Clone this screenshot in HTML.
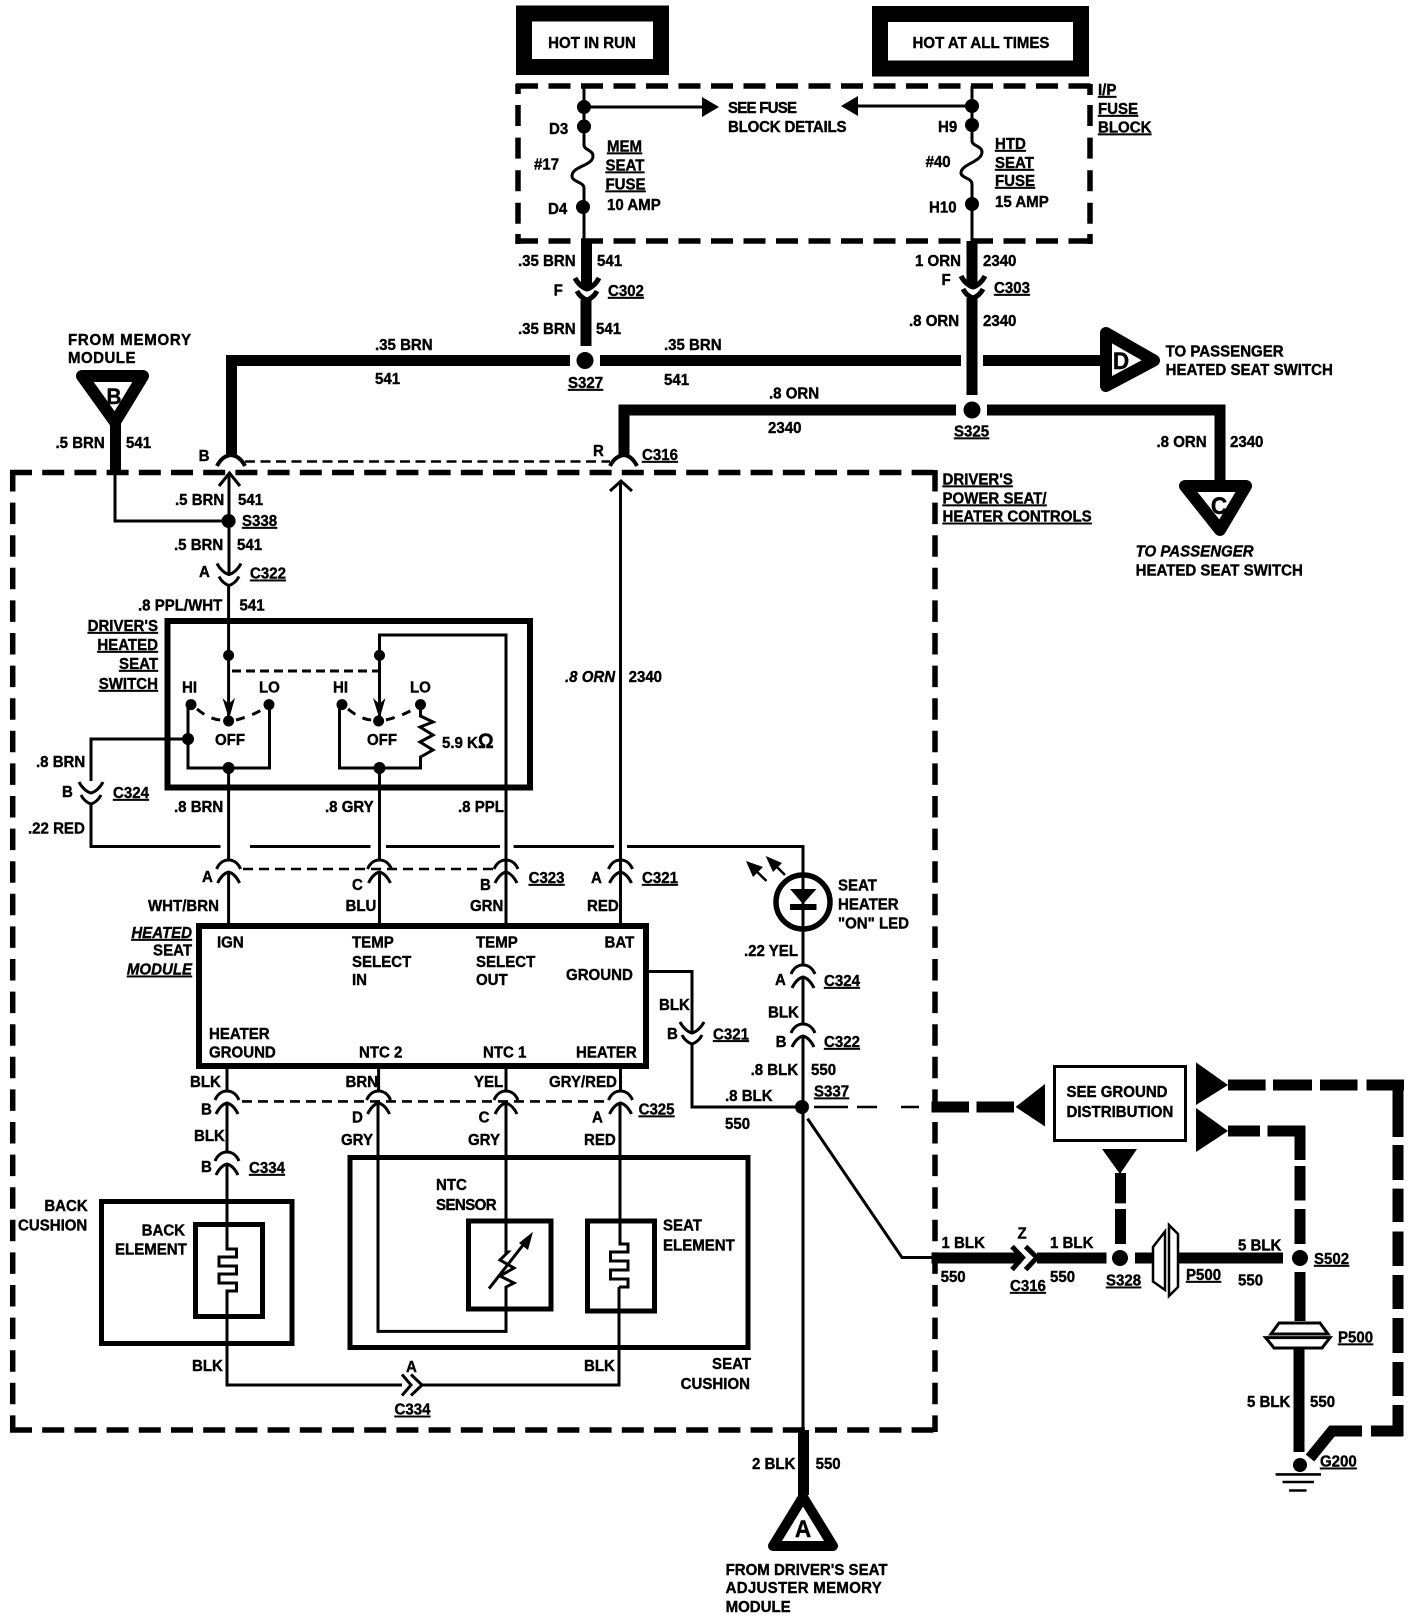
<!DOCTYPE html>
<html><head><meta charset="utf-8"><style>
html,body{margin:0;padding:0;background:#fff}
svg{display:block}
text{font-family:"Liberation Sans",sans-serif;font-weight:bold;font-size:16px;fill:#000;stroke:#000;stroke-width:.4;transform-box:fill-box;transform-origin:left center;transform:scaleX(.94)}
.u{text-decoration:underline}
.i{font-style:italic}
.e{text-anchor:end;transform-origin:right center}
.m{text-anchor:middle;transform-origin:center center}
.w{fill:none;stroke:#000;stroke-width:3}
.t{fill:none;stroke:#000;stroke-width:11}
.d{fill:none;stroke:#000;stroke-width:5.5}
.s{fill:none;stroke:#000;stroke-width:5}
.f{fill:#000;stroke:none}
</style></head><body>
<svg xmlns="http://www.w3.org/2000/svg" width="1424" height="1620" viewBox="0 0 1424 1620">
<defs>
<g id="up" fill="none" stroke="#000"><path d="M-12,-3C-9,-10-4,-12 0,-12C4,-12 9,-10 12,-3"/><path d="M-11,11C-8,5-4,1 0,0C4,1 8,5 11,11"/></g>
<g id="dn" fill="none" stroke="#000"><path d="M-12,-11C-9,-5-4,-1 0,0C4,-1 9,-5 12,-11"/><path d="M-10,2C-7,8-3,10 0,11C3,10 7,8 10,2"/></g>
</defs>
<rect width="1424" height="1620" fill="#fff"/>

<!-- power boxes -->
<rect x="524" y="13.5" width="137" height="53.5" fill="#fff" stroke="#000" stroke-width="16"/>
<rect x="880" y="14" width="201" height="54.5" fill="#fff" stroke="#000" stroke-width="16"/>
<text x="592" y="48" class="m">HOT IN RUN</text>
<text x="981" y="48" class="m">HOT AT ALL TIMES</text>

<!-- fuse block dashed box -->
<g class="d">
<path class="d" stroke-dasharray="22 10.5" d="M516,86H1092"/>
<path class="d" stroke-dasharray="22 10.5" d="M516,241H1092"/>
<path class="d" stroke-dasharray="21 11.6" d="M518,105V225"/>
<path class="d" stroke-dasharray="21 11.6" d="M1090,105V225"/>
<path class="d" d="M518,84V94M518,234V244M1090,84V95M1090,234V244"/>
</g>

<!-- left fuse -->
<path class="w" d="M584,86V145C584,150 593,150 593,156C593,166 572,166 572,176C572,182 584,182 584,188V241"/>
<circle class="f" cx="584" cy="107" r="7"/><circle class="f" cx="584" cy="126.5" r="7"/><circle class="f" cx="583" cy="207" r="7"/>
<path class="w" d="M584,107H704"/><path class="f" d="M702,97L719,107L702,117Z"/>
<!-- right fuse -->
<path class="w" d="M972,86V141C972,146 982,146 982,152C982,162 961,164 961,173C961,178 972,178 972,184V241"/>
<circle class="f" cx="972" cy="106" r="7"/><circle class="f" cx="972" cy="125" r="7"/><circle class="f" cx="972" cy="204" r="7"/>
<path class="w" d="M972,106H855"/><path class="f" d="M858,96L841,106L858,116Z"/>

<!-- thick wires top -->
<path class="t" d="M586.5,241V288"/>
<use href="#dn" x="587" y="289" stroke-width="5"/>
<path class="t" d="M586,300V346"/>
<path class="t" d="M972,241V286"/>
<use href="#dn" x="973" y="287" stroke-width="5"/>
<path class="t" d="M972,298V395"/>
<circle class="f" cx="585" cy="360.5" r="8.5"/>
<path class="t" d="M570,360.5H231.5V456"/>
<path class="t" d="M600,360.5H961"/>
<path class="t" d="M983,360.5H1105"/>
<circle class="f" cx="972" cy="410" r="8.5"/>
<path class="t" d="M956,410H624V456"/>
<path class="t" d="M987,410H1220V485"/>

<!-- D triangle -->
<path d="M1106,333L1154,360.5L1106,386Z" fill="#fff" stroke="#000" stroke-width="12" stroke-linejoin="round"/>
<text x="1121" y="369" class="m" style="font-size:24px">D</text>
<!-- C triangle -->
<path d="M1185,486H1246L1220,530Z" fill="#fff" stroke="#000" stroke-width="12" stroke-linejoin="round"/>
<text x="1219" y="514" class="m" style="font-size:24px">C</text>
<!-- B triangle -->
<path d="M82,376H143L115,422Z" fill="#fff" stroke="#000" stroke-width="12" stroke-linejoin="round"/>
<text x="114" y="404" class="m" style="font-size:22px">B</text>
<path class="t" d="M115.5,420V473"/>
<path class="w" d="M115,473V521H228"/>
<!-- A triangle -->
<path class="t" d="M803.5,1430V1495"/>
<path d="M803,1497L833,1546H773Z" fill="#fff" stroke="#000" stroke-width="10" stroke-linejoin="round"/>
<text x="803" y="1537" class="m" style="font-size:24px">A</text>

<!-- big dashed box -->
<path class="d" stroke-dasharray="22 10.2" d="M10,472.5H937"/>
<path class="d" stroke-dasharray="22 10.2" d="M10,1430H937"/>
<path class="d" stroke-dasharray="21.5 11.1" d="M12.7,470V1432"/>
<path class="d" stroke-dasharray="21.5 11.1" d="M935,470V1432"/>

<!-- top connector B/R -->
<path class="w" style="stroke-width:4" d="M217,466Q222,456 231,455Q240,456 245,466"/>
<path class="w" style="stroke-width:4" d="M610,466Q615,456 624,455Q632,456 637,466"/>
<path class="w" stroke-dasharray="10 5.5" style="stroke-width:2.6" d="M245,461.5H610"/>
<path class="w" d="M219,486L229.5,473L240,486"/>
<path class="w" d="M610,491L621,481L632,491"/>
<path class="w" d="M229,473V574"/>
<circle class="f" cx="228.6" cy="521" r="7"/>
<use href="#dn" x="229" y="574.5" stroke-width="3"/>
<path class="w" d="M228.6,585V717"/>
<path class="w" d="M620.5,481V923"/>

<!-- switch box -->
<rect x="167.5" y="621" width="362.5" height="166.5" fill="none" stroke="#000" stroke-width="6"/>
<circle class="f" cx="228.6" cy="655.4" r="5.5"/>
<circle class="f" cx="379.5" cy="655.4" r="5.5"/>
<path class="w" stroke-dasharray="9 5" d="M232,671H379"/>
<path class="w" d="M379.5,655V635H506V923"/>
<path class="w" d="M379.5,655V717"/>
<path class="f" d="M222.5,698L228.6,704L235,698L229,719Z"/>
<path class="f" d="M373,698L379.5,704L385.5,698L379.5,719Z"/>
<circle class="f" cx="228.6" cy="721" r="5.5"/><circle class="f" cx="378.6" cy="721" r="5.5"/>
<circle class="f" cx="191" cy="704.6" r="5.5"/><circle class="f" cx="269" cy="704.6" r="5.5"/>
<circle class="f" cx="342" cy="704.6" r="5.5"/><circle class="f" cx="420.5" cy="704.6" r="5.5"/>
<path class="w" stroke-dasharray="9 8" d="M197,709Q210,720 222,720"/>
<path class="w" stroke-dasharray="9 8" d="M236,720Q252,716 265,708"/>
<path class="w" stroke-dasharray="9 8" d="M348,709Q361,720 373,720"/>
<path class="w" stroke-dasharray="9 8" d="M386,720Q402,716 416,708"/>
<path class="w" d="M188,704V768H269.5V704"/>
<circle class="f" cx="188" cy="739" r="6"/><circle class="f" cx="228.6" cy="768" r="6"/>
<path class="w" d="M339.5,704V768H420.5V757L433,750L420,742L433,735L420,727L433,722L420.5,716V704"/>
<circle class="f" cx="379.5" cy="768" r="6"/>
<path class="w" d="M188,739H91V781"/>
<use href="#dn" x="91" y="793" stroke-width="3"/>
<path class="w" d="M91,804V846.5H220.5"/>
<path class="w" d="M250,846.5H370.5M386,846.5H500M513.6,846.5H614M627,846.5H803V873"/>
<path class="w" d="M228.6,768V860M379.5,768V860M506,790V860"/>

<!-- C323 row -->
<use href="#up" x="228.6" y="872" stroke-width="3"/>
<use href="#up" x="379.5" y="872" stroke-width="3"/>
<use href="#up" x="506" y="872" stroke-width="3"/>
<use href="#up" x="620.5" y="872" stroke-width="3"/>
<path class="w" stroke-dasharray="10 6" style="stroke-width:2.6" d="M243,869H494"/>
<path class="w" d="M228.6,872V923M379.5,872V923M506,872V923M620.5,872V923"/>

<!-- module -->
<rect x="199" y="926" width="447" height="140" fill="#fff" stroke="#000" stroke-width="6"/>
<path class="w" d="M649,971.5H692V1032"/>
<use href="#dn" x="692" y="1033" stroke-width="3"/>
<path class="w" d="M692,1044V1107H802"/>

<!-- LED -->
<circle cx="803" cy="902" r="27" fill="#fff" stroke="#000" stroke-width="5.5"/>
<path class="w" d="M803,873V965"/>
<path class="f" d="M790,889H816.5L803,904Z"/><rect class="f" x="790" y="904" width="26.5" height="6"/>
<path class="w" style="stroke-width:2.5" d="M766.5,881L750,865M785,875L770,860"/>
<path class="f" d="M746,861L763,867L753,877Z"/><path class="f" d="M765.6,856L782,863L773,872Z"/>
<use href="#up" x="803" y="977" stroke-width="3"/>
<path class="w" d="M803,977V1024"/>
<use href="#up" x="803" y="1036" stroke-width="3"/>
<path class="w" d="M803,1036V1428"/>
<circle class="f" cx="802" cy="1107" r="7"/>
<path class="w" style="stroke-width:2.6" d="M814,1107H848M857,1107H877M901,1107H919"/>
<path class="w" d="M807.5,1118.6L902,1257.5H935"/>

<!-- bottom connectors -->
<path class="w" d="M227,1068V1091M378.6,1068V1091M506,1068V1091M620.5,1068V1091"/>
<use href="#up" x="227" y="1103" stroke-width="3"/>
<use href="#up" x="378.6" y="1103" stroke-width="3"/>
<use href="#up" x="506" y="1103" stroke-width="3"/>
<use href="#up" x="620.5" y="1103" stroke-width="3"/>
<path class="w" stroke-dasharray="10 6" style="stroke-width:2.6" d="M242,1101.4H608"/>
<path class="w" d="M227,1103V1152"/>
<use href="#up" x="227" y="1164" stroke-width="3"/>

<!-- back cushion -->
<rect x="101.5" y="1201.5" width="190.5" height="142" fill="none" stroke="#000" stroke-width="5"/>
<rect x="195.5" y="1224.5" width="67" height="92" fill="none" stroke="#000" stroke-width="5"/>
<path class="w" d="M227,1164V1249H236.5V1257H219V1266H236.5V1274H219V1283H236.5V1291H227V1385H402"/>
<path class="w" d="M402,1374.5L411,1385L402,1395.5M411,1374.5L422,1385L411,1395.5"/>
<path class="w" d="M422,1385H619V1287"/>

<!-- seat cushion -->
<rect x="350" y="1157.5" width="398" height="190" fill="none" stroke="#000" stroke-width="5"/>
<rect x="468.5" y="1221" width="82.5" height="88" fill="none" stroke="#000" stroke-width="5"/>
<rect x="587.5" y="1221" width="67" height="90" fill="none" stroke="#000" stroke-width="5"/>
<path class="w" d="M378,1103V1331.4H506V1287L514,1283L500,1276L514,1268L500,1260L508,1252H506V1103"/>
<path class="w" d="M489,1288.6L527,1240"/><path class="f" d="M533,1231.7L528,1250L519,1243Z"/>
<path class="w" d="M620,1103V1244H628V1252H610.5V1261H628V1270H610.5V1279H628V1287H619"/>

<!-- ground area -->
<path class="t" d="M931.5,1107H969M976.5,1107H1014"/>
<path class="f" d="M1015.6,1107L1045,1084V1126.5Z"/>
<rect x="1054.5" y="1066.5" width="131" height="74" fill="#fff" stroke="#000" stroke-width="3"/>
<path class="f" d="M1196,1062.4V1105L1228,1085Z"/>
<path class="f" d="M1196,1108V1152L1228,1131Z"/>
<path class="t" d="M1228,1085H1265.6M1273,1085H1312M1320,1085H1357.5M1366.5,1085H1404"/>
<path class="t" d="M1398,1085V1137M1398,1145V1180M1398,1188.6V1222M1398,1231.5V1266M1398,1275V1309M1398,1318V1353M1398,1362V1396M1398,1405V1436"/>
<path class="t" d="M1403,1431H1371M1362,1431H1332L1310,1458"/>
<path class="t" d="M1228,1131H1260M1267.5,1131H1305.5M1300,1131V1160M1300,1166V1200.5M1300,1209V1244"/>
<path class="f" d="M1102,1149H1137L1120,1174Z"/>
<path class="t" d="M1120.5,1173V1203.4M1120.5,1209V1244"/>
<path class="t" d="M931.5,1258H1021"/>
<path class="w" style="stroke-width:5" d="M1012,1246.5L1022.5,1257.6L1012,1269.6"/>
<path class="w" style="stroke-width:5" d="M1025.6,1246.5L1037,1257.6L1025.6,1269.6"/>
<path class="t" d="M1037,1258H1106.5"/>
<circle class="f" cx="1120" cy="1258" r="8"/>
<path class="t" d="M1135,1258H1153M1179,1258H1283"/>
<circle class="f" cx="1300" cy="1258" r="8"/>
<path d="M1153,1247L1165,1231.5V1290L1153,1281.5Z" fill="#fff" stroke="#000" stroke-width="2.5"/>
<path d="M1169,1225L1178,1234V1287L1169,1296Z" fill="#fff" stroke="#000" stroke-width="2.5"/>
<path class="t" d="M1300,1272V1321"/>
<path d="M1271,1334L1279,1323H1320L1328,1334Z" fill="#fff" stroke="#000" stroke-width="3"/>
<path d="M1265.6,1337.6H1330L1322,1348H1274Z" fill="#fff" stroke="#000" stroke-width="3"/>
<path class="t" d="M1299,1348V1452"/>
<circle class="f" cx="1300" cy="1465" r="7"/>
<path class="w" style="stroke-width:2.6" d="M1275.6,1474.4H1321M1282.5,1482H1314M1289,1490.5H1306.5"/>

<!-- fuse labels -->
<text x="549" y="134">D3</text><text x="534" y="169.5">#17</text>
<text x="607" y="151.5" class="u">MEM</text><text x="605.5" y="170.5" class="u">SEAT</text><text x="605.5" y="189.5" class="u">FUSE</text><text x="607" y="210">10 AMP</text>
<text x="548" y="214">D4</text>
<text x="518" y="266">.35 BRN</text><text x="597" y="266">541</text>
<text x="553.6" y="295.5">F</text><text x="608" y="296" class="u">C302</text>
<text x="518" y="334">.35 BRN</text><text x="596" y="334">541</text>
<text x="68" y="345" style="letter-spacing:.8px">FROM MEMORY</text><text x="68" y="363" style="letter-spacing:.5px">MODULE</text>
<text x="375" y="350">.35 BRN</text><text x="375" y="384">541</text>
<text x="568" y="388" class="u">S327</text>
<text x="664" y="350">.35 BRN</text><text x="664" y="385">541</text>
<text x="55.5" y="448">.5 BRN</text><text x="126" y="448">541</text>
<text x="198.6" y="461">B</text><text x="593" y="456">R</text><text x="642" y="460" class="u">C316</text>
<text x="175" y="505">.5 BRN</text><text x="238" y="505">541</text>
<text x="242" y="526" class="u">S338</text>
<text x="728" y="113" style="letter-spacing:-.8px">SEE FUSE</text><text x="728" y="132" style="letter-spacing:-.2px">BLOCK DETAILS</text>
<text x="938" y="132">H9</text><text x="925.6" y="167">#40</text><text x="929" y="212.5">H10</text>
<text x="995" y="149" class="u">HTD</text><text x="995" y="168" class="u">SEAT</text><text x="995" y="186" class="u">FUSE</text><text x="995" y="207">15 AMP</text>
<text x="1098" y="95" class="u">I/P</text><text x="1098" y="114" class="u">FUSE</text><text x="1098" y="132.5" class="u">BLOCK</text>
<text x="915" y="266">1 ORN</text><text x="983" y="266">2340</text>
<text x="941.5" y="285">F</text><text x="994" y="293" class="u">C303</text>
<text x="909" y="326">.8 ORN</text><text x="983" y="326">2340</text>
<text x="1165.6" y="356.5">TO PASSENGER</text><text x="1165.6" y="375">HEATED SEAT SWITCH</text>
<text x="769" y="398.5">.8 ORN</text><text x="768" y="433">2340</text>
<text x="954" y="436.5" class="u">S325</text>
<text x="1156.5" y="447">.8 ORN</text><text x="1230" y="447">2340</text>
<text x="942.5" y="484.5" class="u">DRIVER'S</text><text x="942.5" y="503.5" class="u">POWER SEAT/</text><text x="942.5" y="521.7" class="u">HEATER CONTROLS</text>
<text x="1135.6" y="556.5" class="i">TO PASSENGER</text><text x="1135.6" y="575.5">HEATED SEAT SWITCH</text>

<!-- switch labels -->
<text x="174" y="550">.5 BRN</text><text x="237" y="550">541</text>
<text x="199" y="577">A</text><text x="250" y="578.6" class="u">C322</text>
<text x="138" y="610.6">.8 PPL/WHT</text><text x="239.5" y="610.6">541</text>
<text x="158" y="631" class="e u">DRIVER'S</text><text x="158" y="650" class="e u">HEATED</text><text x="158" y="669" class="e u">SEAT</text><text x="158" y="689" class="e u">SWITCH</text>
<text x="182" y="692.5">HI</text><text x="259" y="692.5">LO</text><text x="333" y="692.5">HI</text><text x="410" y="692.5">LO</text>
<text x="215" y="745">OFF</text><text x="367" y="745">OFF</text><text x="442" y="748">5.9 K<tspan style="font-size:21px">Ω</tspan></text>
<text x="36" y="767">.8 BRN</text><text x="62" y="797">B</text><text x="113" y="798" class="u">C324</text><text x="28" y="833.5">.22 RED</text>
<text x="174" y="812">.8 BRN</text><text x="325" y="812">.8 GRY</text><text x="458" y="812">.8 PPL</text>
<text x="565" y="682" class="i">.8 ORN</text><text x="628.6" y="682">2340</text>
<text x="202" y="882">A</text><text x="352" y="890">C</text><text x="480" y="890">B</text><text x="528.6" y="883" class="u">C323</text><text x="591" y="883">A</text><text x="642" y="883" class="u">C321</text>
<text x="148" y="911">WHT/BRN</text><text x="345.5" y="911">BLU</text><text x="470" y="911">GRN</text><text x="587" y="911">RED</text>
<text x="192" y="938" class="e i u">HEATED</text><text x="192" y="955.6" class="e">SEAT</text><text x="192" y="974.6" class="e i u">MODULE</text>
<text x="217" y="947.4">IGN</text><text x="352" y="947.4">TEMP</text><text x="352" y="967">SELECT</text><text x="352" y="985">IN</text>
<text x="476" y="947.4">TEMP</text><text x="476" y="967">SELECT</text><text x="476" y="985">OUT</text><text x="604.5" y="947.4">BAT</text><text x="566" y="980">GROUND</text>
<text x="209" y="1039">HEATER</text><text x="209" y="1057.6">GROUND</text><text x="359" y="1057.6">NTC 2</text><text x="483" y="1057.6">NTC 1</text><text x="576" y="1057.6">HEATER</text>
<text x="659" y="1010">BLK</text><text x="667" y="1039">B</text><text x="713" y="1039.3" class="u">C321</text>
<text x="838" y="890.5">SEAT</text><text x="838" y="909.5">HEATER</text><text x="838" y="928.5">"ON" LED</text>
<text x="744" y="956">.22 YEL</text><text x="775" y="985">A</text><text x="824" y="986" class="u">C324</text>
<text x="768" y="1017.6">BLK</text><text x="775.6" y="1047">B</text><text x="824" y="1047" class="u">C322</text>
<text x="750.6" y="1075">.8 BLK</text><text x="811" y="1075">550</text>
<text x="725" y="1101">.8 BLK</text><text x="725" y="1129">550</text><text x="814" y="1096.5" class="u">S337</text>

<!-- lower labels -->
<text x="190" y="1087">BLK</text><text x="345.5" y="1087">BRN</text><text x="474" y="1087">YEL</text><text x="549" y="1087">GRY/RED</text>
<text x="201" y="1114.5">B</text><text x="352" y="1122.4">D</text><text x="478.6" y="1122.4">C</text><text x="592" y="1122.4">A</text><text x="638.6" y="1114.5" class="u">C325</text>
<text x="194" y="1141">BLK</text><text x="341" y="1145">GRY</text><text x="468" y="1145">GRY</text><text x="584" y="1145">RED</text>
<text x="201" y="1172">B</text><text x="249" y="1173" class="u">C334</text>
<text x="87.7" y="1211" class="e">BACK</text><text x="18" y="1230.5">CUSHION</text>
<text x="185" y="1235.6" class="e">BACK</text><text x="115" y="1254.6">ELEMENT</text>
<text x="436" y="1190">NTC</text><text x="436" y="1210" style="letter-spacing:-.6px">SENSOR</text>
<text x="663" y="1230.5">SEAT</text><text x="663" y="1250.5">ELEMENT</text>
<text x="192" y="1371">BLK</text><text x="584" y="1371">BLK</text><text x="406" y="1372">A</text><text x="394.5" y="1414.7" class="u">C334</text>
<text x="751" y="1369" class="e">SEAT</text><text x="750" y="1389" class="e">CUSHION</text>
<text x="1066.5" y="1097">SEE GROUND</text><text x="1066.5" y="1117">DISTRIBUTION</text>
<text x="941.5" y="1248">1 BLK</text><text x="940.6" y="1282">550</text><text x="1017.5" y="1238.6">Z</text>
<text x="1050" y="1248">1 BLK</text><text x="1050" y="1282">550</text><text x="1010" y="1291" class="u">C316</text>
<text x="1106" y="1285.6" class="u">S328</text><text x="1186" y="1280" class="u">P500</text>
<text x="1238" y="1250.7">5 BLK</text><text x="1238" y="1285.6">550</text><text x="1314" y="1264" class="u">S502</text>
<text x="1338" y="1342.5" class="u">P500</text><text x="1247" y="1407">5 BLK</text><text x="1310" y="1407">550</text>
<text x="1320" y="1466.6" class="u">G200</text>
<text x="752" y="1469">2 BLK</text><text x="815.6" y="1469">550</text>
<text x="725.6" y="1575">FROM DRIVER'S SEAT</text><text x="725.6" y="1593" style="letter-spacing:.3px">ADJUSTER MEMORY</text><text x="725.6" y="1612">MODULE</text>
</svg>
</body></html>
